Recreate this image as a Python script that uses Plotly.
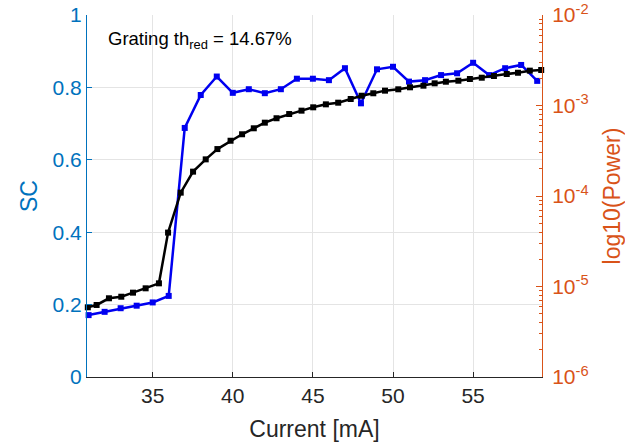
import plotly.graph_objects as go

# Blue series: SC vs current
sc_current = [31, 32, 33, 34, 35, 36, 37, 38, 39, 40, 41, 42, 43, 44, 45, 46, 47, 48,
              49, 50, 51, 52, 53, 54, 55, 56, 57, 58, 59]
sc_values = [0.171, 0.180, 0.190, 0.197, 0.206, 0.224, 0.688, 0.779, 0.830, 0.785,
             0.795, 0.784, 0.795, 0.824, 0.824, 0.820, 0.853, 0.756, 0.850, 0.857,
             0.816, 0.820, 0.834, 0.839, 0.868, 0.834, 0.853, 0.862, 0.818]

# Black series: optical power vs current (log axis)
pw_current = [30.95, 31.5, 32.27, 33.04, 33.77, 34.56, 35.39, 35.96, 36.75, 37.52,
              38.31, 39.04, 39.86, 40.58, 41.31, 42.0, 42.73, 43.52, 44.29, 45.02,
              45.81, 46.58, 47.36, 48.04, 48.77, 49.5, 50.33, 51.06, 51.9, 52.6,
              53.3, 54.08, 54.8, 55.54, 56.3, 57.1, 57.8, 58.54, 59.25]
pw_values = [5.89e-6, 6.25e-6, 7.41e-6, 7.71e-6, 8.55e-6, 9.55e-6, 1.084e-5, 3.94e-5,
             1.089e-4, 1.858e-4, 2.54e-4, 3.30e-4, 4.08e-4, 4.81e-4, 5.60e-4, 6.46e-4,
             7.23e-4, 8.05e-4, 8.77e-4, 9.55e-4, 1.030e-3, 1.074e-3, 1.180e-3, 1.282e-3,
             1.365e-3, 1.459e-3, 1.510e-3, 1.589e-3, 1.656e-3, 1.758e-3, 1.832e-3,
             1.879e-3, 1.963e-3, 2.028e-3, 2.118e-3, 2.228e-3, 2.301e-3, 2.427e-3,
             2.466e-3]

x_ticks = [35, 40, 45, 50, 55]
sc_ticks = [0, 0.2, 0.4, 0.6, 0.8, 1]
sc_ticktext = ["0", "0.2", "0.4", "0.6", "0.8", "1"]
pw_ticks = [1e-6, 1e-5, 1e-4, 1e-3, 1e-2]
pw_ticktext = ["10<sup>-6</sup>", "10<sup>-5</sup>", "10<sup>-4</sup>",
               "10<sup>-3</sup>", "10<sup>-2</sup>"]
pw_minor = [m * 10.0 ** e for e in (-6, -5, -4, -3) for m in range(2, 10)]

annotation_text = "Grating th<sub>red</sub> = 14.67%"

FONT = "Liberation Sans, Arial, sans-serif"
BLUE_AX = "#0072BD"
ORANGE_AX = "#D95319"
DARK = "#262626"
GRID = "#e4e4e4"

fig = go.Figure()
fig.add_trace(go.Scatter(
    x=sc_current, y=sc_values, mode="lines+markers",
    line=dict(color="#0000f0", width=2.5),
    marker=dict(symbol="square", size=6, color="#0000f0"),
    yaxis="y", showlegend=False, cliponaxis=False))
fig.add_trace(go.Scatter(
    x=pw_current, y=pw_values, mode="lines+markers",
    line=dict(color="black", width=2.5),
    marker=dict(symbol="square", size=6, color="black"),
    yaxis="y2", showlegend=False, cliponaxis=False))

fig.add_annotation(x=32.1, y=0.932, xref="x", yref="y", text=annotation_text,
                   showarrow=False, xanchor="left", yanchor="middle",
                   font=dict(family=FONT, size=18.5, color="black"))

fig.update_layout(
    width=625, height=444,
    margin=dict(l=87, r=83, t=15, b=67, autoexpand=False),
    paper_bgcolor="white", plot_bgcolor="white",
    font=dict(family=FONT, color=DARK),
    xaxis=dict(
        range=[30.9, 59.3], tickvals=x_ticks, ticks="inside", ticklen=5,
        tickcolor=DARK, showline=True, linecolor=DARK, linewidth=1,
        showgrid=True, gridcolor=GRID, zeroline=False, automargin=False,
        tickfont=dict(size=21, color=DARK),
        title=dict(text="Current [mA]", font=dict(size=23, color=DARK), standoff=14)),
    yaxis=dict(
        range=[0, 1], tickvals=sc_ticks, ticktext=sc_ticktext, ticks="inside",
        ticklen=5, tickcolor=BLUE_AX, showline=True, linecolor=BLUE_AX, linewidth=1,
        showgrid=True, gridcolor=GRID, zeroline=False, automargin=False,
        tickfont=dict(size=21, color=BLUE_AX),
        title=dict(text="SC", font=dict(size=23, color=BLUE_AX), standoff=8)),
    yaxis2=dict(
        overlaying="y", side="right", type="log", range=[-6, -2],
        tickvals=pw_ticks, ticktext=pw_ticktext, ticks="inside", ticklen=6,
        tickcolor=ORANGE_AX, showline=True, linecolor=ORANGE_AX, linewidth=1,
        showgrid=False, zeroline=False, ticklabelstandoff=5, automargin=False,
        minor=dict(tickvals=pw_minor, ticks="inside", ticklen=3,
                   tickcolor=ORANGE_AX, showgrid=False),
        tickfont=dict(size=21, color=ORANGE_AX),
        title=dict(text="log10(Power)", font=dict(size=23, color=ORANGE_AX), standoff=25)),
)

fig.write_html("out.html")
